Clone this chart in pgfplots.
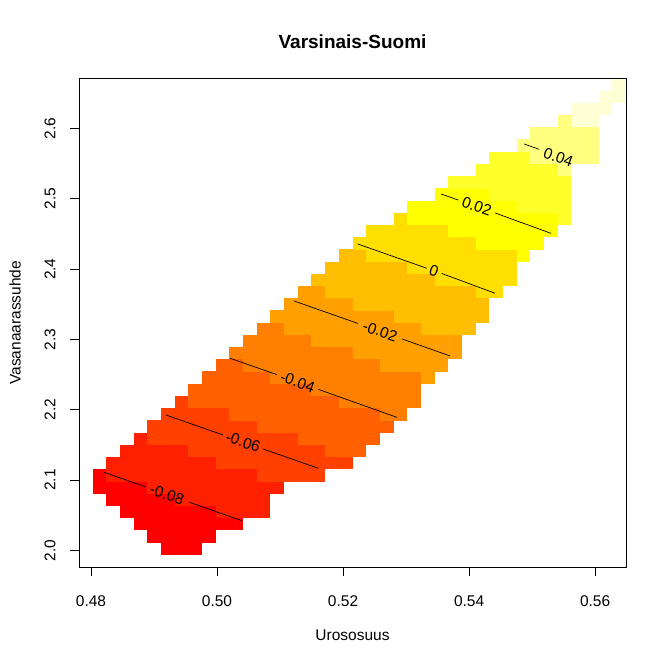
\documentclass[border=0pt]{standalone}
\usepackage{fontspec}
\setmainfont{Liberation Sans}
\usepackage{pgfplots}
\pgfplotsset{compat=1.18}
% heat.colors(12)
\definecolor{h0}{HTML}{FF0000}
\definecolor{h1}{HTML}{FF2000}
\definecolor{h2}{HTML}{FF4000}
\definecolor{h3}{HTML}{FF6000}
\definecolor{h4}{HTML}{FF8000}
\definecolor{h5}{HTML}{FF9F00}
\definecolor{h6}{HTML}{FFBF00}
\definecolor{h7}{HTML}{FFDF00}
\definecolor{h8}{HTML}{FFFF00}
\definecolor{h9}{HTML}{FFFF2A}
\definecolor{h10}{HTML}{FFFF80}
\definecolor{h11}{HTML}{FFFFD5}
\begin{document}
\begin{tikzpicture}
\begin{axis}[
    scale only axis,
    width=547bp, height=488.5bp,
    xmin=0.4781, xmax=0.5649,
    ymin=1.9765, ymax=2.6711,
    axis on top,
    axis line style={black, line width=0.8bp},
    xtick={0.48,0.50,0.52,0.54,0.56},
    xticklabels={0.48,0.50,0.52,0.54,0.56},
    ytick={2.0,2.1,2.2,2.3,2.4,2.5,2.6},
    yticklabels={2.0,2.1,2.2,2.3,2.4,2.5,2.6},
    xtick pos=bottom, ytick pos=left,
    tick align=outside,
    major tick length=9bp,
    tick style={black, line width=0.8bp},
    font=\fontsize{15.5bp}{18bp}\selectfont,
    xticklabel style={anchor=center, yshift=-25bp},
    yticklabel style={xshift=-20bp, rotate=90, anchor=center},
    title={Varsinais-Suomi},
    title style={font=\bfseries\fontsize{19bp}{22bp}\selectfont,
        at={(axis description cs:0.5,1.0624)}, anchor=center},
    xlabel={Urososuus},
    xlabel style={at={(axis description cs:0.5,-0.1392)}, anchor=center},
    ylabel={Vasanaarassuhde},
    ylabel style={at={(axis description cs:-0.117,0.5)}, anchor=center},
    every axis plot/.append style={unbounded coords=jump, line cap=butt},
]
\coordinate (O) at (rel axis cs:0,0);
% image cells, one run of equal colour per row: (left,row)(right,row)
\addplot[h0, line width=12.4bp] coordinates {
(0.49112,2.0025)(0.49763,2.0025)(nan,nan)
(0.48895,2.0199)(0.49980,2.0199)(nan,nan)
(0.48678,2.0373)(0.50414,2.0373)(nan,nan)
(0.48461,2.0546)(0.49980,2.0546)(nan,nan)
(0.48244,2.0720)(0.49329,2.0720)(nan,nan)
(0.48027,2.0894)(0.48895,2.0894)(nan,nan)
(0.48027,2.1067)(0.48244,2.1067)
};
\addplot[h1, line width=12.4bp] coordinates {
(0.49980,2.0546)(0.50848,2.0546)(nan,nan)
(0.49329,2.0720)(0.50848,2.0720)(nan,nan)
(0.48895,2.0894)(0.51065,2.0894)(nan,nan)
(0.48244,2.1067)(0.50631,2.1067)(nan,nan)
(0.48244,2.1241)(0.49980,2.1241)(nan,nan)
(0.48461,2.1415)(0.49546,2.1415)(nan,nan)
(0.48678,2.1588)(0.48895,2.1588)
};
\addplot[h2, line width=12.4bp] coordinates {
(0.50631,2.1067)(0.51716,2.1067)(nan,nan)
(0.49980,2.1241)(0.52150,2.1241)(nan,nan)
(0.49546,2.1415)(0.51716,2.1415)(nan,nan)
(0.48895,2.1588)(0.51282,2.1588)(nan,nan)
(0.48895,2.1762)(0.50631,2.1762)(nan,nan)
(0.49112,2.1936)(0.50197,2.1936)(nan,nan)
(0.49329,2.2109)(0.49546,2.2109)
};
\addplot[h3, line width=12.4bp] coordinates {
(0.51716,2.1415)(0.52367,2.1415)(nan,nan)
(0.51282,2.1588)(0.52584,2.1588)(nan,nan)
(0.50631,2.1762)(0.52801,2.1762)(nan,nan)
(0.50197,2.1936)(0.52584,2.1936)(nan,nan)
(0.49546,2.2109)(0.51933,2.2109)(nan,nan)
(0.49546,2.2283)(0.51499,2.2283)(nan,nan)
(0.49763,2.2457)(0.50848,2.2457)(nan,nan)
(0.49980,2.2630)(0.50414,2.2630)
};
\addplot[h4, line width=12.4bp] coordinates {
(0.52584,2.1936)(0.53018,2.1936)(nan,nan)
(0.51933,2.2109)(0.53235,2.2109)(nan,nan)
(0.51499,2.2283)(0.53235,2.2283)(nan,nan)
(0.50848,2.2457)(0.53235,2.2457)(nan,nan)
(0.50414,2.2630)(0.52584,2.2630)(nan,nan)
(0.50197,2.2804)(0.52150,2.2804)(nan,nan)
(0.50414,2.2978)(0.51499,2.2978)(nan,nan)
(0.50631,2.3151)(0.51065,2.3151)
};
\addplot[h5, line width=12.4bp] coordinates {
(0.53235,2.2457)(0.53452,2.2457)(nan,nan)
(0.52584,2.2630)(0.53669,2.2630)(nan,nan)
(0.52150,2.2804)(0.53886,2.2804)(nan,nan)
(0.51499,2.2978)(0.53886,2.2978)(nan,nan)
(0.51065,2.3151)(0.53235,2.3151)(nan,nan)
(0.50848,2.3325)(0.52801,2.3325)(nan,nan)
(0.51065,2.3499)(0.52150,2.3499)(nan,nan)
(0.51282,2.3672)(0.51716,2.3672)
};
\addplot[h6, line width=12.4bp] coordinates {
(0.53235,2.3151)(0.54103,2.3151)(nan,nan)
(0.52801,2.3325)(0.54320,2.3325)(nan,nan)
(0.52150,2.3499)(0.54320,2.3499)(nan,nan)
(0.51716,2.3672)(0.54103,2.3672)(nan,nan)
(0.51499,2.3846)(0.53452,2.3846)(nan,nan)
(0.51716,2.4020)(0.53018,2.4020)(nan,nan)
(0.51933,2.4193)(0.52367,2.4193)
};
\addplot[h7, line width=12.4bp] coordinates {
(0.54103,2.3672)(0.54537,2.3672)(nan,nan)
(0.53452,2.3846)(0.54754,2.3846)(nan,nan)
(0.53018,2.4020)(0.54754,2.4020)(nan,nan)
(0.52367,2.4193)(0.54754,2.4193)(nan,nan)
(0.52150,2.4367)(0.54103,2.4367)(nan,nan)
(0.52367,2.4541)(0.53669,2.4541)(nan,nan)
(0.52801,2.4714)(0.53018,2.4714)
};
\addplot[h8, line width=12.4bp] coordinates {
(0.54754,2.4193)(0.54971,2.4193)(nan,nan)
(0.54103,2.4367)(0.55188,2.4367)(nan,nan)
(0.53669,2.4541)(0.55405,2.4541)(nan,nan)
(0.53018,2.4714)(0.55405,2.4714)(nan,nan)
(0.53018,2.4888)(0.54754,2.4888)(nan,nan)
(0.53452,2.5062)(0.54320,2.5062)
};
\addplot[h9, line width=12.4bp] coordinates {
(0.55405,2.4714)(0.55622,2.4714)(nan,nan)
(0.54754,2.4888)(0.55622,2.4888)(nan,nan)
(0.54320,2.5062)(0.55622,2.5062)(nan,nan)
(0.53669,2.5235)(0.55622,2.5235)(nan,nan)
(0.54103,2.5409)(0.55405,2.5409)(nan,nan)
(0.54320,2.5583)(0.54971,2.5583)
};
\addplot[h10, line width=12.4bp] coordinates {
(0.55405,2.5409)(0.55622,2.5409)(nan,nan)
(0.54971,2.5583)(0.56056,2.5583)(nan,nan)
(0.54754,2.5756)(0.56056,2.5756)(nan,nan)
(0.54971,2.5930)(0.56056,2.5930)(nan,nan)
(0.55405,2.6104)(0.55622,2.6104)
};
\addplot[h11, line width=12.4bp] coordinates {
(0.55622,2.6104)(0.56056,2.6104)(nan,nan)
(0.55622,2.6277)(0.56273,2.6277)(nan,nan)
(0.56056,2.6451)(0.56490,2.6451)(nan,nan)
(0.56273,2.6625)(0.56490,2.6625)
};
% contour lines, broken where the label sits
\addplot[black, line width=0.7bp] coordinates {
(0.48206,2.11119)(0.48868,2.09035)(nan,nan)(0.49556,2.06868)(0.50392,2.04237)};
\addplot[black, line width=0.7bp] coordinates {
(0.49190,2.19266)(0.50095,2.16430)(nan,nan)(0.50730,2.14439)(0.51608,2.11688)};
\addplot[black, line width=0.7bp] coordinates {
(0.50206,2.27328)(0.50948,2.25011)(nan,nan)(0.51608,2.22906)(0.52852,2.18939)};
\addplot[black, line width=0.7bp] coordinates {
(0.51222,2.35476)(0.52238,2.32276)(nan,nan)(0.52937,2.30073)(0.53698,2.27656)};
\addplot[black, line width=0.7bp] coordinates {
(0.52233,2.43581)(0.53329,2.40125)(nan,nan)(0.53567,2.39386)(0.54413,2.36570)};
\addplot[black, line width=0.7bp] coordinates {
(0.53556,2.50690)(0.53830,2.49822)(nan,nan)(0.54413,2.47988)(0.55302,2.45087)};
\addplot[black, line width=0.7bp] coordinates {
(0.54873,2.57799)(0.55111,2.57045)};
\begin{scope}[every node/.style={rotate=-19.4, inner sep=0pt,
    font=\fontsize{15.5bp}{15.5bp}\selectfont}]
\node at (axis cs:0.49206,2.07962) {-0.08};
\node at (axis cs:0.50413,2.15434) {-0.06};
\node at (axis cs:0.51278,2.23959) {-0.04};
\node at (axis cs:0.52587,2.31182) {-0.02};
\node at (axis cs:0.53444,2.39755) {0};
\node at (axis cs:0.54122,2.48898) {0.02};
\node at (axis cs:0.55417,2.55908) {0.04};
\end{scope}
\end{axis}
\pgfresetboundingbox
\path[use as bounding box] (O) ++(-79bp,-98bp) rectangle ++(666bp,665bp);
\end{tikzpicture}
\end{document}
